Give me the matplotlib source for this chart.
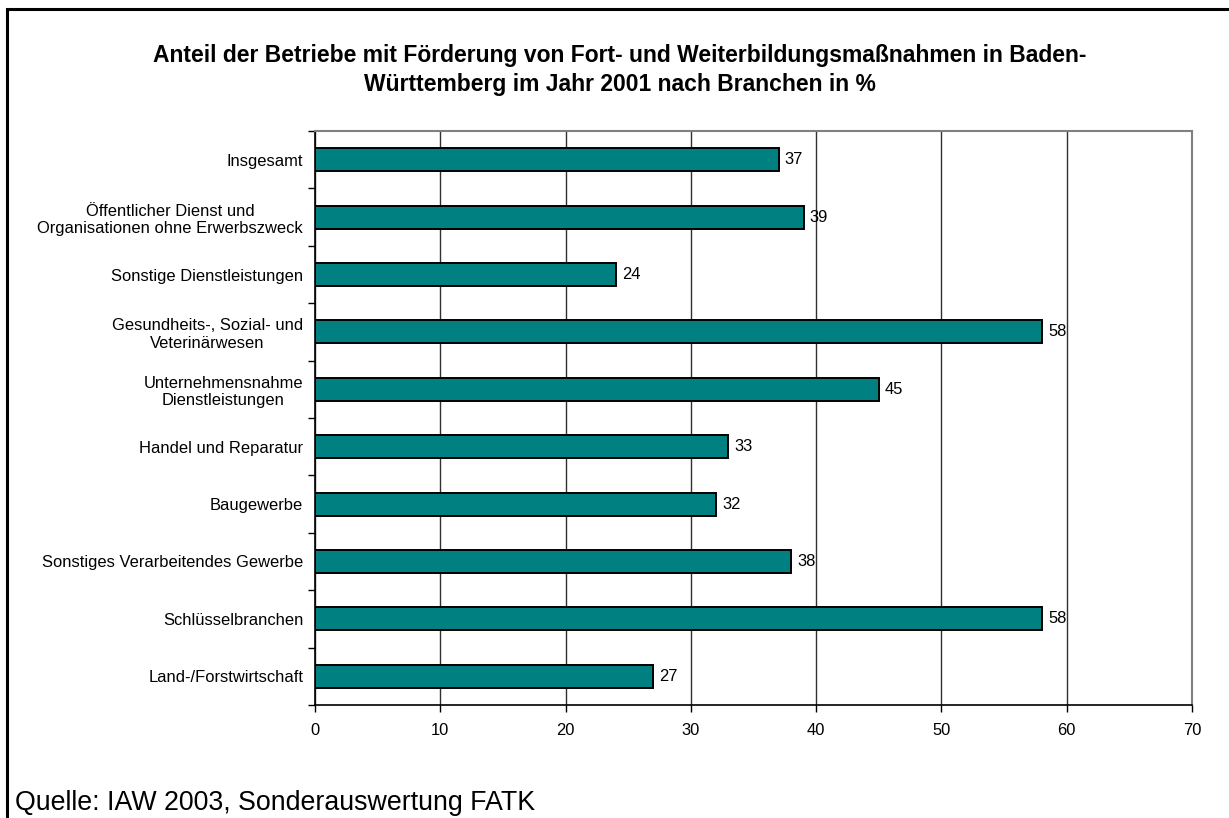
import matplotlib
matplotlib.use("Agg")
import matplotlib.pyplot as plt
import numpy as np
from matplotlib.patches import Rectangle

plt.rcParams['font.family'] = ['Liberation Sans', 'DejaVu Sans']

# Branchen von oben nach unten
branchen = [
    'Insgesamt',
    'Öffentlicher Dienst und\nOrganisationen ohne Erwerbszweck',
    'Sonstige Dienstleistungen',
    'Gesundheits-, Sozial- und\nVeterinärwesen',
    'Unternehmensnahme\nDienstleistungen',
    'Handel und Reparatur',
    'Baugewerbe',
    'Sonstiges Verarbeitendes Gewerbe',
    'Schlüsselbranchen',
    'Land-/Forstwirtschaft',
]
anteil = [37, 39, 24, 58, 45, 33, 32, 38, 58, 27]
xticks = [0, 10, 20, 30, 40, 50, 60, 70]

titel = ('Anteil der Betriebe mit Förderung von Fort- und Weiterbildungsmaßnahmen in Baden-\n'
         'Württemberg im Jahr 2001 nach Branchen in %')
quelle = 'Quelle: IAW 2003, Sonderauswertung FATK'

fs = 11.9

fig = plt.figure(figsize=(12.29, 8.18), dpi=100)
fig.patch.set_facecolor('white')

# aeusserer Rahmen (links und oben sichtbar, rechts/unten ausserhalb)
fig.patches.append(Rectangle((7 / 1229, -0.1), 1.2, 1 - 9 / 818 + 0.1,
                             transform=fig.transFigure, fill=False,
                             edgecolor='black', linewidth=2.2))

ax = fig.add_axes([315 / 1229, 1 - 705 / 818, (1192 - 315) / 1229, (705 - 131) / 818])

y = np.arange(len(branchen))
bars = ax.barh(y, anteil, height=0.4, color='#008080', edgecolor='black',
               linewidth=1.4, zorder=3)
for b, v in zip(bars, anteil):
    ax.text(b.get_width() + 0.5, b.get_y() + b.get_height() / 2, str(v),
            va='center', ha='left', fontsize=fs, zorder=4)

ax.set_xlim(0, 70)
ax.set_ylim(len(branchen) - 0.5, -0.5)
ax.set_xticks(xticks)
ax.set_xticklabels([str(t) for t in xticks], fontsize=fs)
ax.set_yticks(y)
ax.set_yticklabels(branchen, fontsize=fs, multialignment='center')
ax.set_yticks(np.arange(-0.5, len(branchen), 1), minor=True)
ax.tick_params(axis='y', which='major', length=0, pad=8.5)
ax.tick_params(axis='y', which='minor', length=5, direction='out', width=1)
ax.tick_params(axis='x', which='major', length=5, direction='out', width=1, pad=8)

ax.grid(axis='x', color='#303030', linewidth=1, zorder=0)
ax.spines['left'].set_color('black')
ax.spines['bottom'].set_color('black')
ax.spines['left'].set_linewidth(1.2)
ax.spines['bottom'].set_linewidth(1.2)
ax.spines['top'].set_color('#808080')
ax.spines['right'].set_color('#808080')
ax.spines['top'].set_linewidth(1.5)
ax.spines['right'].set_linewidth(1.5)

fig.text(620 / 1229, 1 - 70 / 818, titel, ha='center', va='center',
         fontsize=16.5, fontweight='bold', linespacing=1.3)
fig.text(15 / 1229, 1 - 810 / 818, quelle, ha='left', va='baseline', fontsize=19.3)

fig.savefig('out.png', dpi=100, facecolor='white')
